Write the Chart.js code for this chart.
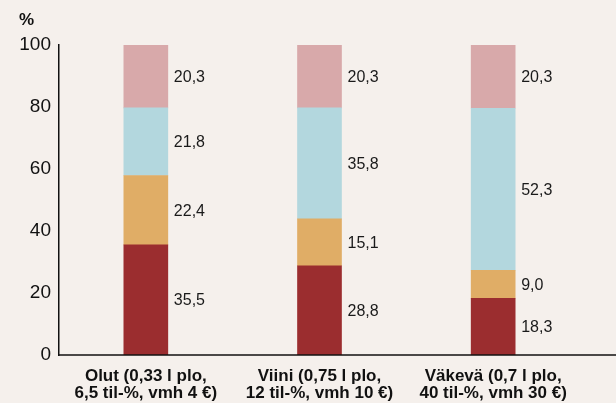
<!DOCTYPE html>
<html><head><meta charset="utf-8">
<script src="https://cdn.jsdelivr.net/npm/chart.js@4/dist/chart.umd.min.js"></script>
<style>html,body{margin:0;padding:0;background:#f5f0ec;}#wrap{width:616px;height:403px;position:relative;}</style>
</head><body><div id="wrap"><canvas id="c" width="616" height="403"></canvas></div>
<script>
const categories = [["Olut (0,33 l plo,","6,5 til-%, vmh 4 €)"],["Viini (0,75 l plo,","12 til-%, vmh 10 €)"],["Väkevä (0,7 l plo,","40 til-%, vmh 30 €)"]];
const seriesRed = [35.5, 28.8, 18.3];
const seriesOrange = [22.4, 15.1, 9.0];
const seriesBlue = [21.8, 35.8, 52.3];
const seriesPink = [20.3, 20.3, 20.3];
const yTicks = [0, 20, 40, 60, 80, 100];
const unitLabel = "%";

const fmt = v => v.toFixed(1).replace('.', ',');

const extras = {
  id: 'extras',
  afterDraw(chart) {
    const ctx = chart.ctx, a = chart.chartArea;
    ctx.save();
    ctx.strokeStyle = '#111'; ctx.lineWidth = 1.5;
    ctx.beginPath(); ctx.moveTo(a.left, a.bottom); ctx.lineTo(chart.width, a.bottom); ctx.stroke();
    ctx.fillStyle = '#111'; ctx.font = 'bold 17px "Liberation Sans", Arial, sans-serif';
    ctx.textAlign = 'left'; ctx.textBaseline = 'middle';
    ctx.fillText(unitLabel, 19, 20);
    ctx.font = '16px "Liberation Sans", Arial, sans-serif';
    ctx.fillStyle = '#1a1a1a';
    chart.data.datasets.forEach((ds, i) => {
      const meta = chart.getDatasetMeta(i);
      meta.data.forEach((bar, j) => {
        const p = bar.getProps(['x','y','base','width'], true);
        ctx.fillText(fmt(ds.data[j]), p.x + p.width/2 + 6, (p.y + p.base)/2 + 1);
      });
    });
    ctx.restore();
  }
};

new Chart(document.getElementById('c'), {
  type: 'bar',
  data: {
    labels: categories,
    datasets: [
      {label:'a', data: seriesRed, backgroundColor:'#9b2d2f'},
      {label:'b', data: seriesOrange, backgroundColor:'#e0ad66'},
      {label:'c', data: seriesBlue, backgroundColor:'#b3d7de'},
      {label:'d', data: seriesPink, backgroundColor:'#d8a9aa'}
    ]
  },
  options: {
    responsive: false, animation: false,
    layout: {padding: {top: 45, right: 36, left: 0, bottom: 0}},
    plugins: {legend: {display: false}, tooltip: {enabled: false}},
    datasets: {bar: {barThickness: 44}},
    scales: {
      x: {
        stacked: true,
        grid: {display: false, drawTicks: false},
        border: {display: false},
        ticks: {color: '#111', font: {family: '"Liberation Sans Narrow", "Arial Narrow", "Liberation Sans", sans-serif', size: 17, weight: 'bold', lineHeight: 1.05}, padding: 12, maxRotation: 0, autoSkip: false},
        afterFit(s) { s.height = 48; }
      },
      y: {
        stacked: true, min: 0, max: 100,
        afterBuildTicks(s) { s.ticks = yTicks.map(v => ({value: v})); },
        grid: {display: false, drawTicks: false},
        border: {display: true, color: '#111', width: 1.5},
        ticks: {color: '#111', font: {family: '"Liberation Sans", Arial, sans-serif', size: 19}, padding: 8},
        afterFit(s) { s.width = 59; }
      }
    }
  },
  plugins: [extras]
});
</script></body></html>
